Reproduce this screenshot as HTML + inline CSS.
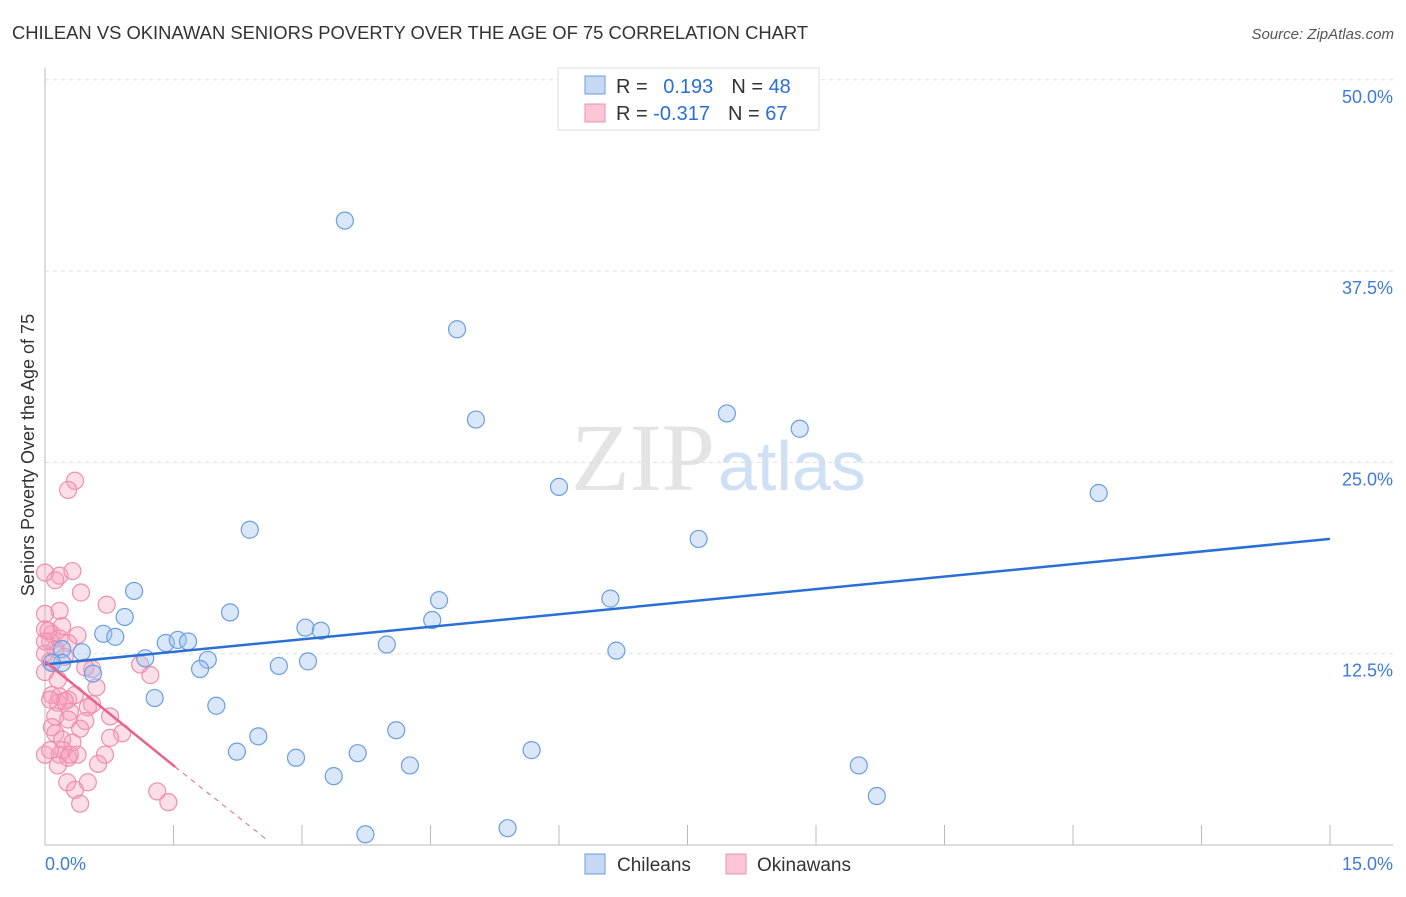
<!DOCTYPE html>
<html><head><meta charset="utf-8"><style>
body{margin:0;background:#fff;font-family:"Liberation Sans",sans-serif}
</style></head><body>
<svg id="c" width="1406" height="892" xmlns="http://www.w3.org/2000/svg">
<text x="12" y="39" font-size="18.4" fill="#333">CHILEAN VS OKINAWAN SENIORS POVERTY OVER THE AGE OF 75 CORRELATION CHART</text>
<text x="1394" y="39" font-size="15" fill="#555" text-anchor="end" font-style="italic">Source: ZipAtlas.com</text>
<text x="715" y="490" font-size="96" fill="#e4e4e4" text-anchor="end" font-family="Liberation Serif">ZIP</text>
<text x="718" y="490" font-size="70" fill="#cfe0f4">atlas</text>
<text transform="translate(34,455) rotate(-90)" font-size="18" fill="#333" text-anchor="middle">Seniors Poverty Over the Age of 75</text>
<g id="grid"></g><g id="pts"></g><g id="lines"></g>
<g>
<rect x="558" y="68" width="261" height="62" fill="#fff" stroke="#ddd"/>
<rect x="585" y="76" width="20" height="18" fill="#c5d9f4" stroke="#6b9ee0"/>
<rect x="585" y="104" width="20" height="18" fill="#fac6d6" stroke="#ee8fae"/>
<text x="616" y="93" font-size="20" fill="#333">R = <tspan fill="#2a6fd6" dx="10">0.193</tspan><tspan dx="18" fill="#333">N = </tspan><tspan fill="#2a6fd6">48</tspan></text>
<text x="616" y="120" font-size="20" fill="#333">R = <tspan fill="#2a6fd6">-0.317</tspan><tspan dx="18" fill="#333">N = </tspan><tspan fill="#2a6fd6">67</tspan></text>
</g>
<g>
<rect x="585" y="854" width="20" height="20" fill="#c5d9f4" stroke="#6b9ee0"/>
<text x="617" y="871" font-size="19" fill="#333">Chileans</text>
<rect x="726" y="854" width="20" height="20" fill="#fac6d6" stroke="#ee8fae"/>
<text x="757" y="871" font-size="19" fill="#333">Okinawans</text>
</g>
<text x="45" y="870" font-size="18" fill="#3d7bd9">0.0%</text>
<text x="1393" y="870" font-size="18" fill="#3d7bd9" text-anchor="end">15.0%</text>
</svg>
<script>
const yTicks=[12.5,25,37.5,50];
const xTickCount=10;
const blueX=[3.50,4.81,5.03,7.96,8.81,6.00,12.30,2.39,7.63,1.04,0.93,4.60,6.60,2.16,4.52,0.68,0.82,3.04,3.22,1.41,1.55,1.67,3.99,6.67,0.43,0.20,1.17,1.90,3.07,2.73,1.81,0.20,0.56,1.28,2.00,4.10,2.49,2.24,3.65,5.68,2.93,4.26,9.50,3.37,9.71,3.74,5.40,0.08];
const blueY=[40.8,33.7,27.8,28.2,27.2,23.4,23.0,20.6,20.0,16.6,14.9,16.0,16.1,15.2,14.7,13.8,13.6,14.2,14.0,13.2,13.4,13.3,13.1,12.7,12.6,12.8,12.2,12.1,12.0,11.7,11.5,11.9,11.2,9.6,9.1,7.5,7.1,6.1,6.0,6.2,5.7,5.2,5.2,4.5,3.2,0.7,1.1,11.9];
const pinkX=[0.35,0.27,0.17,0.32,0,0.12,0.42,0.72,0.17,0,0.08,0,0.38,0.17,0.06,0.27,0.12,0,0.23,0.06,0.55,0.47,1.11,1.23,0,0.08,0.17,0.27,0.35,0.15,0.23,0.55,0.5,0.29,0.12,0.76,0.47,0.27,0.08,0.9,0.41,0.12,0.2,0.76,0.32,0.21,0.38,0.7,0.17,0.27,0,0.62,0.15,0.29,0.5,0.26,0.35,1.31,1.44,0.41,0.06,0.15,0,0.04,0.6,0.2,0.06];
const pinkY=[23.8,23.2,17.6,17.9,17.8,17.3,16.5,15.7,15.3,15.1,13.8,14.1,13.7,13.5,13.3,13.2,12.8,12.5,12.3,12.0,11.5,11.6,11.8,11.1,11.3,9.8,9.7,9.5,9.8,9.3,9.4,9.2,9.0,8.7,8.4,8.4,8.1,8.2,7.7,7.3,7.6,7.3,6.9,7.0,6.7,6.2,5.9,5.9,5.9,5.7,5.9,5.3,5.2,5.9,4.1,4.1,3.6,3.5,2.8,2.7,9.5,10.8,13.3,14.0,10.3,14.3,6.2];
const blueTrend=[[0,11.8],[15,20.0]];
const pinkTrend=[[0,12.0],[1.52,5.1]];
const pinkDash=[[1.52,5.1],[2.6,0.3]];
const X=v=>45+v/15*1285, Y=v=>845-v/12.5*191.3;
const NS="http://www.w3.org/2000/svg";
function mk(t,a,p){const e=document.createElementNS(NS,t);for(const k in a)e.setAttribute(k,a[k]);p.appendChild(e);return e;}
const g=document.getElementById('grid');
mk('line',{x1:45,y1:68,x2:45,y2:845,stroke:'#bbb'},g);
mk('line',{x1:45,y1:845,x2:1393,y2:845,stroke:'#bbb'},g);
yTicks.forEach(t=>{const l=mk('line',{x1:45,y1:Y(t),x2:1393,y2:Y(t),stroke:'#ddd','stroke-dasharray':'4,4'},g);


const tx=mk('text',{x:1393,y:Y(t)+23,'font-size':18,fill:'#3d7bd9','text-anchor':'end'},g);tx.textContent=t.toFixed(1)+'%';

});
for(let i=1;i<=xTickCount;i++){const x=X(i*1.5);const l=mk('line',{x1:x,y1:845,x2:x,y2:825,stroke:'#bbb'},g);

}
const p=document.getElementById('pts');
pinkX.forEach((v,i)=>{const c=mk('circle',{cx:X(v),cy:Y(pinkY[i]),r:8.5,fill:'rgba(246,160,190,0.35)',stroke:'#ee8fae','stroke-width':1.2},p);

});
blueX.forEach((v,i)=>{const c=mk('circle',{cx:X(v),cy:Y(blueY[i]),r:8.5,fill:'rgba(160,196,240,0.4)',stroke:'#6b9ee0','stroke-width':1.2},p);

});
const L=document.getElementById('lines');
let e=mk('line',{x1:X(blueTrend[0][0]),y1:Y(blueTrend[0][1]),x2:X(blueTrend[1][0]),y2:Y(blueTrend[1][1]),stroke:'#2a6fd6','stroke-width':2.5},L);


e=mk('line',{x1:X(pinkTrend[0][0]),y1:Y(pinkTrend[0][1]),x2:X(pinkTrend[1][0]),y2:Y(pinkTrend[1][1]),stroke:'#e8638d','stroke-width':2.5},L);


e=mk('line',{x1:X(pinkDash[0][0]),y1:Y(pinkDash[0][1]),x2:X(pinkDash[1][0]),y2:Y(pinkDash[1][1]),stroke:'#e8638d','stroke-width':1,'stroke-dasharray':'5,5'},L);


</script>
</body></html>
